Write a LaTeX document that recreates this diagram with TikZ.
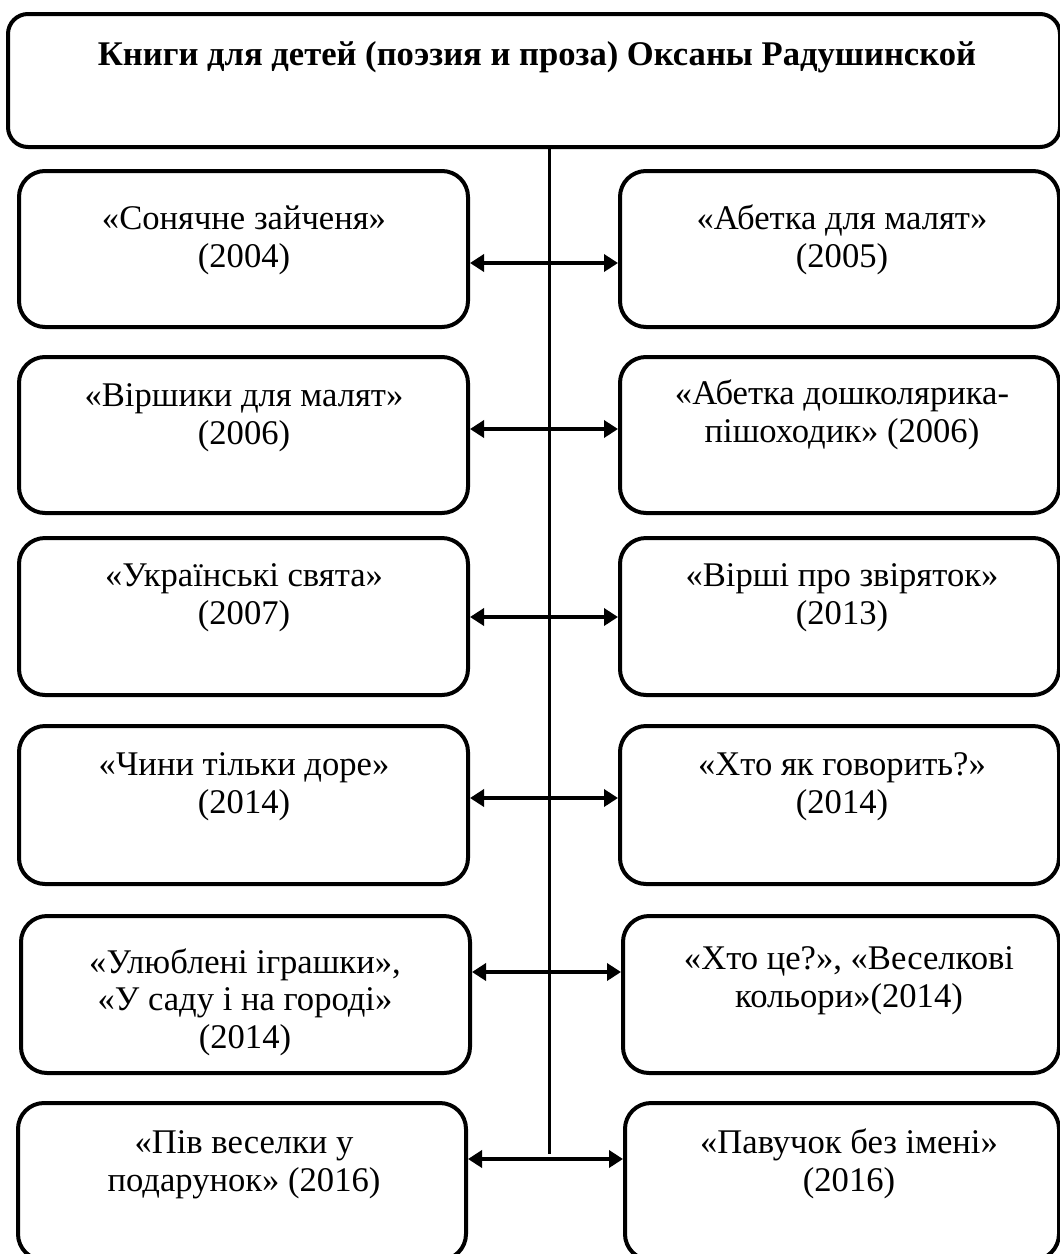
\documentclass[tikz,border=0pt]{standalone}
\usepackage{fontspec}
\setmainfont{Liberation Serif}
\usetikzlibrary{arrows.meta}
\begin{document}
\begin{tikzpicture}[x=0.5pt,y=-0.5pt,
  box/.style={draw, line width=2pt, rounded corners=13pt, inner sep=0pt},
  lbl/.style={font=\fontsize{17.3}{18.75}\selectfont, align=center, inner sep=0pt, anchor=base},
  link/.style={line width=2.2pt, {Triangle[length=7pt,width=8.5pt]}-{Triangle[length=7pt,width=8.5pt]}},
  stem/.style={line width=1.5pt}]
\useasboundingbox (0,0) rectangle (1060,1254);
% title
\node[box, rounded corners=10pt, minimum width=526pt, minimum height=66.5pt] (T) at (534,80.5) {};
\node[lbl, font=\fontsize{17.3}{18.75}\selectfont\bfseries] (Tt) at (537,65) {Книги для детей (поэзия и проза) Оксаны Радушинской};
% boxes
\node[box, minimum width=224.5pt, minimum height=78pt] (L1) at (243.5,249) {};
\node[box, minimum width=219.5pt, minimum height=78pt] (R1) at (839.5,249) {};
\node[box, minimum width=224.5pt, minimum height=78pt] (L2) at (243.5,435) {};
\node[box, minimum width=219.5pt, minimum height=78pt] (R2) at (839.5,435) {};
\node[box, minimum width=224.5pt, minimum height=78.5pt] (L3) at (243.5,616.5) {};
\node[box, minimum width=219.5pt, minimum height=78.5pt] (R3) at (839.5,616.5) {};
\node[box, minimum width=224.5pt, minimum height=79pt] (L4) at (243.5,805) {};
\node[box, minimum width=219.5pt, minimum height=79pt] (R4) at (839.5,805) {};
\node[box, minimum width=224.5pt, minimum height=78.5pt] (L5) at (245.5,994.5) {};
\node[box, minimum width=218pt, minimum height=78.5pt] (R5) at (841,994.5) {};
\node[box, minimum width=224pt, minimum height=78.5pt] (L6) at (242,1181.5) {};
\node[box, minimum width=217pt, minimum height=78.5pt] (R6) at (842,1181.5) {};
% labels (anchor base = baseline of the last line)
\node[lbl] (tL1) at (244,267) {«Сонячне зайченя»\\(2004)};
\node[lbl] (tR1) at (842,267) {«Абетка для малят»\\(2005)};
\node[lbl] (tL2) at (244,444) {«Віршики для малят»\\(2006)};
\node[lbl] (tR2) at (842,442) {«Абетка дошколярика-\\пішоходик» (2006)};
\node[lbl] (tL3) at (244,624) {«Українські свята»\\(2007)};
\node[lbl] (tR3) at (842,624) {«Вірші про звіряток»\\(2013)};
\node[lbl] (tL4) at (244,813) {«Чини тільки доре»\\(2014)};
\node[lbl] (tR4) at (842,813) {«Хто як говорить?»\\(2014)};
\node[lbl] (tL5) at (245,1048) {«Улюблені іграшки»,\\«У саду і на городі»\\(2014)};
\node[lbl] (tR5) at (849,1007) {«Хто це?», «Веселкові\\кольори»(2014)};
\node[lbl] (tL6) at (244,1191) {«Пів веселки у\\подарунок» (2016)};
\node[lbl] (tR6) at (849,1191) {«Павучок без імені»\\(2016)};
% connectors
\coordinate (vend) at (549,1154);
\draw[stem] (T.south -| vend) -- (vend);
\coordinate (a1) at (549,263);
\coordinate (a2) at (549,429);
\coordinate (a3) at (549,617);
\coordinate (a4) at (549,798);
\coordinate (a5) at (549,972);
\coordinate (a6) at (549,1159);
\foreach \i in {1,...,6} {
  \draw[link] (L\i.east |- a\i) -- (R\i.west |- a\i);
}
\end{tikzpicture}
\end{document}
